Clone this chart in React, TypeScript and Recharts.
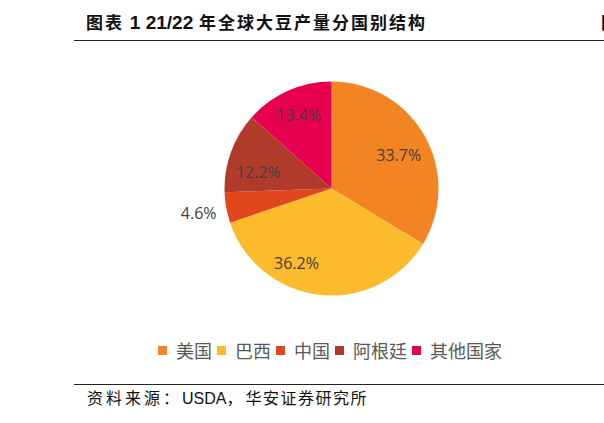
import React from 'react';
import { PieChart, Pie, Cell } from 'recharts';

const COUNTRIES = ['美国', '巴西', '中国', '阿根廷', '其他国家'];
const SHARES = [33.7, 36.2, 4.6, 12.2, 13.4];
const COLORS = ['#F28424', '#FBBB2D', '#E2461C', '#B13B2B', '#E6004F'];

// label placement per slice: distance from the centre and a small angle nudge
const LABEL_R = [75, 82, 135, 75, 81];
const LABEL_NUDGE = [-3, -19, 0, 7, 0];

const data = COUNTRIES.map((name, i) => ({ name, value: SHARES[i] }));

const RAD = Math.PI / 180;
const CX = 331.5;
const CY = 188.5;
const R = 107;

function renderLabel({ cx, cy, midAngle, index, value }: any) {
  const r = LABEL_R[index];
  const a = (midAngle + LABEL_NUDGE[index]) * RAD;
  const x = cx + r * Math.cos(-a);
  const y = cy + r * Math.sin(-a);
  return (
    <text
      x={x}
      y={y}
      textAnchor="middle"
      dominantBaseline="central"
      fill="#404040"
      fontSize={16}
      fontFamily="'Open Sans', sans-serif"
    >
      {`${value.toFixed(1)}%`}
    </text>
  );
}

export default function App() {
  return (
    <div style={{
      position: 'absolute', left: 0, top: 0, width: 604, height: 423,
      overflow: 'hidden', background: '#fff', fontFamily: "'Noto Sans CJK SC', sans-serif",
    }}>
      <div style={{
        position: 'absolute', left: 86, top: 10, fontSize: 17, fontWeight: 700,
        letterSpacing: 2, color: '#111', whiteSpace: 'nowrap', lineHeight: '24px',
      }}>
        图表 <span style={{ fontFamily: 'Arial, Liberation Sans, sans-serif', letterSpacing: 0, fontSize: 19 }}>1 21/22</span> 年全球大豆产量分国别结构
      </div>
      <div style={{
        position: 'absolute', left: 601, top: 10, fontSize: 17, fontWeight: 700,
        color: '#111', lineHeight: '24px',
      }}>图</div>
      <div style={{ position: 'absolute', left: 74, top: 40, width: 530, height: 1, background: '#222' }} />

      <div style={{ position: 'absolute', left: 0, top: 0 }}>
        <PieChart width={604} height={340} margin={{ top: 0, right: 0, bottom: 0, left: 0 }}>
          <Pie
            data={data}
            dataKey="value"
            nameKey="name"
            cx={CX}
            cy={CY}
            outerRadius={R}
            startAngle={90}
            endAngle={-270}
            stroke="none"
            label={renderLabel}
            labelLine={false}
            isAnimationActive={false}
          >
            {data.map((d, i) => (
              <Cell key={d.name} fill={COLORS[i]} />
            ))}
          </Pie>
        </PieChart>
      </div>

      <div style={{
        position: 'absolute', left: 158, top: 338, height: 24, display: 'flex',
        alignItems: 'center', fontSize: 18, color: '#595959', whiteSpace: 'nowrap',
      }}>
        {COUNTRIES.map((name, i) => (
          <div key={name} style={{ display: 'flex', alignItems: 'center', marginRight: 5 }}>
            <span style={{ width: 9, height: 9, background: COLORS[i], marginRight: 9, display: 'inline-block' }} />
            <span>{name}</span>
          </div>
        ))}
      </div>

      <div style={{ position: 'absolute', left: 74, top: 384, width: 530, height: 1, background: '#222' }} />
      <div style={{
        position: 'absolute', left: 87, top: 386, fontSize: 16, color: '#111',
        whiteSpace: 'nowrap', lineHeight: '22px',
      }}>
        <span style={{ letterSpacing: 3 }}>资料来源：</span>
        <span style={{ fontFamily: 'Arial, Liberation Sans, sans-serif' }}>USDA</span>
        <span style={{ letterSpacing: 3 }}>，</span>
        <span style={{ letterSpacing: 1.5 }}>华安证券研究所</span>
      </div>
    </div>
  );
}
